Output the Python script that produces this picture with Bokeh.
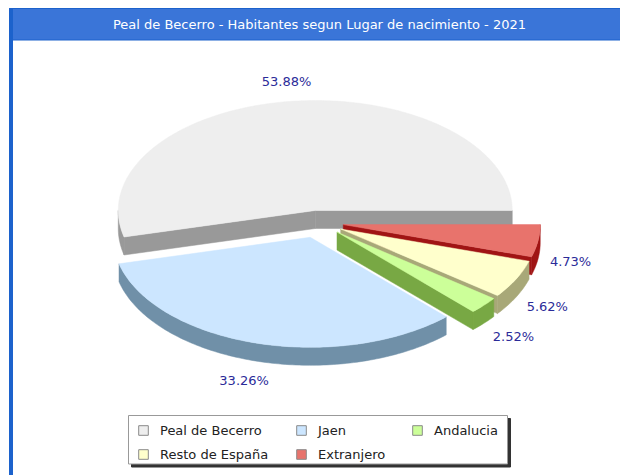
import math
from bokeh.plotting import figure
from bokeh.models import Range1d, Legend, LegendItem, Label
from bokeh.core.properties import value
from bokeh.embed import file_html
from bokeh.resources import INLINE

# ---------------- data ----------------
title_text = "Peal de Becerro - Habitantes segun Lugar de nacimiento - 2021"
categories = ["Peal de Becerro", "Jaen", "Andalucia", "Resto de España", "Extranjero"]
percentages = [53.88, 33.26, 2.52, 5.62, 4.73]

# ---------------- style ----------------
top_colors = ["#eeeeee", "#cce6ff", "#ccff99", "#ffffcc", "#e8736c"]
side_colors = ["#999999", "#7090a8", "#78a844", "#a8a878", "#a01414"]
explode = [0.11, 0.14, 0.13, 0.13, 0.13]
CX, CY = 317.4, 222.0      # pie centre (page pixels)
RX, RY = 197.0, 110.0      # ellipse radii
DEPTH = 18.0               # 3D thickness
FONT = "DejaVu Sans"
LABEL_COLOR = "#2b2b99"
BAR_COLOR = "#3a75d8"
BORDER_COLOR = "#1c62cc"

W, H = 620, 475

p = figure(width=W, height=H,
           x_range=Range1d(0, W), y_range=Range1d(H, 0),
           output_backend="svg", toolbar_location=None, min_border=0,
           x_axis_location=None, y_axis_location=None,
           background_fill_color="white", border_fill_color="white",
           outline_line_color=None)
p.grid.grid_line_color = None

# title bar + frame border
p.quad(left=[9], right=[W], top=[8], bottom=[39.5], fill_color=BAR_COLOR,
       line_color=BORDER_COLOR, line_width=1)
p.quad(left=[9], right=[12], top=[8], bottom=[H], color=BORDER_COLOR)
p.add_layout(Label(x=319, y=24, text=title_text, text_align="center", text_baseline="middle",
                   text_color="white", text_font=FONT, text_font_size="13px"))

# ---------------- pie geometry ----------------
total = sum(percentages)
slices = []
acc = 0.0
for i, v in enumerate(percentages):
    a0 = acc / total * 2 * math.pi
    acc += v
    a1 = acc / total * 2 * math.pi
    mid = (a0 + a1) / 2
    ax = CX + explode[i] * RX * math.cos(mid)
    ay = CY - explode[i] * RY * math.sin(mid)
    slices.append(dict(i=i, a0=a0, a1=a1, mid=mid, ax=ax, ay=ay))


def arc(ax, ay, b0, b1, dy=0.0):
    n = max(2, int(abs(b1 - b0) / math.radians(1)) + 1)
    xs, ys = [], []
    for k in range(n + 1):
        a = b0 + (b1 - b0) * k / n
        xs.append(ax + RX * math.cos(a))
        ys.append(ay - RY * math.sin(a) + dy)
    return xs, ys


order = sorted(slices, key=lambda s: -math.sin(s["mid"]))
for s in order:
    i, a0, a1, ax, ay = s["i"], s["a0"], s["a1"], s["ax"], s["ay"]
    wx, wy = [], []
    # outer rim (front half only)
    b0, b1 = max(a0, math.pi), min(a1, 2 * math.pi)
    if b1 > b0:
        tx, ty = arc(ax, ay, b0, b1)
        bx, by = arc(ax, ay, b0, b1, DEPTH)
        wx.append(tx + bx[::-1])
        wy.append(ty + by[::-1])
    # radial walls facing the viewer
    for ang, vis in ((a0, math.cos(a0) > 1e-9), (a1, math.cos(a1) < -1e-9)):
        if vis:
            rx_ = ax + RX * math.cos(ang)
            ry_ = ay - RY * math.sin(ang)
            wx.append([ax, rx_, rx_, ax])
            wy.append([ay, ry_, ry_ + DEPTH, ay + DEPTH])
    if wx:
        p.patches(wx, wy, fill_color=side_colors[i], line_color=side_colors[i], line_width=0.5)
    tx, ty = arc(ax, ay, a0, a1)
    p.patches([[ax] + tx], [[ay] + ty], fill_color=top_colors[i],
              line_color=top_colors[i], line_width=0.5)

# ---------------- labels ----------------
groups = {"left": ([], [], []), "right": ([], [], []), "center": ([], [], [])}
for s in slices:
    c, sn = math.cos(s["mid"]), math.sin(s["mid"])
    align = "center" if abs(c) < 0.35 else ("left" if c > 0 else "right")
    gap = 40 if align == "center" else 12
    x = s["ax"] + (RX + gap) * c
    y = s["ay"] - (RY + 20) * sn + (DEPTH if sn < 0 else 0)
    g = groups[align]
    g[0].append(x)
    g[1].append(y)
    g[2].append(f"{percentages[s['i']]:.2f}%")
for align, (xs, ys, ts) in groups.items():
    if xs:
        p.text(x=xs, y=ys, text=ts, text_align=align, text_baseline="middle",
               text_font=value(FONT), text_font_size="13px", text_color=LABEL_COLOR)

# ---------------- legend ----------------
p.quad(left=[131], right=[510], top=[418], bottom=[466.5], color="#333333")
p.quad(left=[128], right=[507], top=[415], bottom=[463.5], fill_color="white",
       line_color="#999999", line_width=1)

# hidden renderers (one per category, bounding box of its slice) used as legend swatches
swatch = {}
for s in slices:
    i = s["i"]
    xs_, ys_ = arc(s["ax"], s["ay"], s["a0"], s["a1"])
    xs_ += [s["ax"]]
    ys_ += [s["ay"]]
    swatch[i] = p.quad(left=[min(xs_)], right=[max(xs_)], top=[min(ys_)], bottom=[max(ys_)],
                       fill_color=top_colors[i], line_color="#8a8a8a", line_width=1,
                       visible=False)

columns = [([0, 3], 137, 12), ([1, 4], 295, 12), ([2], 411, 36)]
for idxs, lx, ly in columns:
    leg = Legend(items=[LegendItem(label=categories[k], renderers=[swatch[k]]) for k in idxs],
                 location=(lx, ly), orientation="vertical", padding=0, spacing=6,
                 label_height=18, glyph_height=12, glyph_width=12, label_standoff=11,
                 border_line_color=None, background_fill_alpha=0, margin=0,
                 label_text_font=FONT, label_text_font_size="13px", label_text_color="#222222")
    p.add_layout(leg)

open("out.html", "w").write(file_html(p, INLINE))
